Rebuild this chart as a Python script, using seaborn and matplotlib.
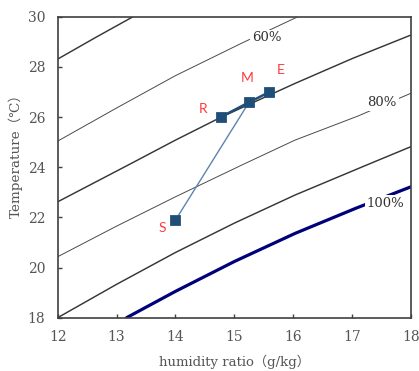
import matplotlib
matplotlib.use("Agg")
import matplotlib.pyplot as plt
import seaborn as sns
import pandas as pd

# ---- data ----
rh50_x = [12.0, 12.65, 13.28]
rh50_y = [28.31, 29.18, 30.0]
rh60_x = [12.0, 13.0, 14.0, 15.12, 16.08]
rh60_y = [25.04, 26.36, 27.65, 28.94, 30.0]
rh70_x = [12.0, 13.2, 14.0, 14.78, 16.03, 17.0, 18.0]
rh70_y = [22.62, 24.09, 25.08, 26.0, 27.34, 28.33, 29.27]
rh80_x = [12.0, 13.0, 14.0, 15.13, 16.03, 17.10, 18.0]
rh80_y = [20.43, 21.65, 22.82, 24.09, 25.08, 26.04, 26.95]
rh90_x = [12.0, 13.0, 14.0, 15.0, 16.03, 17.25, 18.0]
rh90_y = [18.0, 19.33, 20.6, 21.77, 22.89, 24.09, 24.82]
rh100_x = [13.17, 14.0, 15.0, 16.03, 17.06, 18.0]
rh100_y = [18.0, 19.05, 20.24, 21.36, 22.36, 23.22]

point_names = ["S", "R", "M", "E"]
point_x = [14.0, 14.78, 15.25, 15.59]
point_y = [21.89, 26.01, 26.59, 26.99]

rh_labels = ["60%", "80%", "100%"]

x_ticks = [12, 13, 14, 15, 16, 17, 18]
y_ticks = [18, 20, 22, 24, 26, 28, 30]

# ---- plotting ----
sns.set_style("white")
plt.rcParams["font.family"] = ["DejaVu Serif", "Noto Sans CJK SC"]

fig = plt.figure(figsize=(4.19, 3.71), dpi=100)
ax = fig.add_axes([0.1377, 0.1437, 0.8433, 0.8113])

def curve(xs, ys, color, lw):
    df = pd.DataFrame({"x": xs, "y": ys})
    sns.lineplot(data=df, x="x", y="y", ax=ax, color=color, linewidth=lw,
                 sort=False, estimator=None)

curve(rh50_x, rh50_y, "#363636", 1.05)
curve(rh60_x, rh60_y, "#4a4a4a", 0.7)
curve(rh70_x, rh70_y, "#363636", 1.05)
curve(rh80_x, rh80_y, "#4a4a4a", 0.7)
curve(rh90_x, rh90_y, "#363636", 1.05)
curve(rh100_x, rh100_y, "#00007a", 2.3)

# process lines
pts = pd.DataFrame({"name": point_names, "x": point_x, "y": point_y})
sm = pts[pts["name"].isin(["S", "M"])]
rme = pts[pts["name"].isin(["R", "M", "E"])]
sns.lineplot(data=sm, x="x", y="y", ax=ax, color="#5b84b1", linewidth=1.0,
             sort=False, estimator=None)
sns.lineplot(data=rme, x="x", y="y", ax=ax, color="#1f4e79", linewidth=1.8,
             sort=False, estimator=None)
sns.scatterplot(data=pts, x="x", y="y", ax=ax, marker="s", s=50,
                color="#1f4e79", edgecolor="#1f4e79", zorder=5)

# point labels
label_pos = {"S": (13.77, 21.56), "R": (14.47, 26.32), "M": (15.21, 27.54), "E": (15.79, 27.87)}
for n in point_names:
    lx, ly = label_pos[n]
    ax.text(lx, ly, n, color="#ff3b3b", fontsize=10, family=["Lato", "DejaVu Sans"],
            ha="center", va="center", zorder=6)

# RH labels with white background to break the curves
rh_pos = [(15.55, 29.16), (17.51, 26.56), (17.56, 22.57)]
for t, (lx, ly) in zip(rh_labels, rh_pos):
    ax.text(lx, ly, t, color="#333333", fontsize=9.5, ha="center", va="center",
            zorder=4, bbox=dict(facecolor="white", edgecolor="none", pad=1.2))

ax.set_xlim(12, 18)
ax.set_ylim(18, 30)
ax.set_xticks(x_ticks)
ax.set_yticks(y_ticks)
ax.set_xticklabels([str(v) for v in x_ticks])
ax.set_yticklabels([str(v) for v in y_ticks])
ax.tick_params(direction="in", length=3, width=1, colors="#404040",
               labelcolor="#555555", labelsize=10, left=True, bottom=True,
               top=False, right=False, pad=9)
for s in ax.spines.values():
    s.set_color("#404040")
    s.set_linewidth(1.2)

ax.set_xlabel("humidity ratio（g/kg）", fontsize=9.5, color="#555555", va="bottom")
ax.set_ylabel("Temperature（℃）", fontsize=9.7, color="#555555")
ax.xaxis.set_label_coords(0.5, -0.172)
ax.yaxis.set_label_coords(-0.098, 0.55)

fig.savefig("out.png", dpi=100)
